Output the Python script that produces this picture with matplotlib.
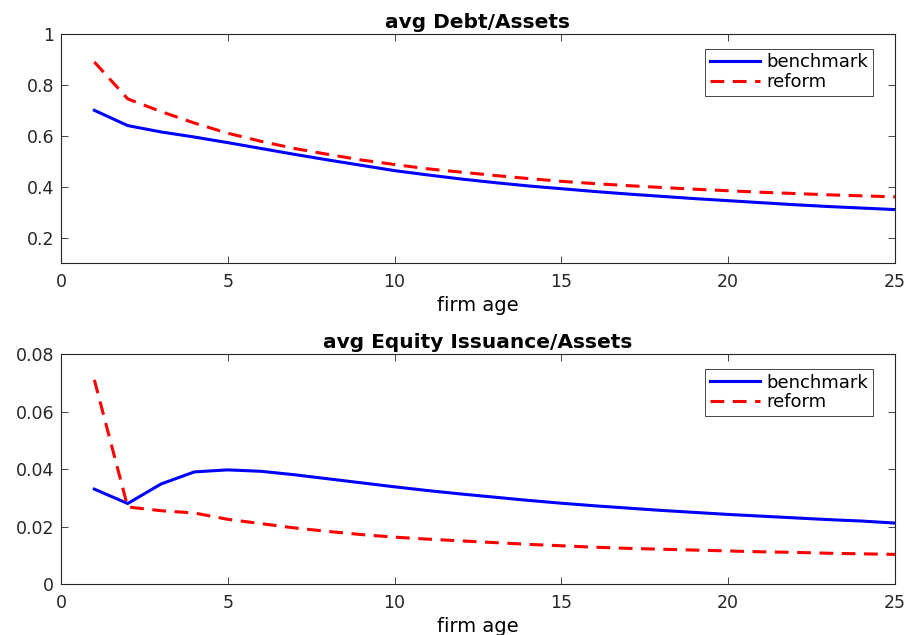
import numpy as np
import matplotlib
matplotlib.use("Agg")
import matplotlib.pyplot as plt

matplotlib.rcParams.update({
    'font.family': ['DejaVu Sans'],
    'font.size': 13,
})

age = np.arange(1, 26)

debt_benchmark = [0.700, 0.640, 0.615, 0.595, 0.573, 0.550, 0.527, 0.505, 0.484, 0.463,
                  0.446, 0.430, 0.416, 0.403, 0.392, 0.381, 0.371, 0.362, 0.353, 0.345,
                  0.337, 0.329, 0.322, 0.316, 0.310]
debt_reform = [0.890, 0.745, 0.695, 0.650, 0.610, 0.578, 0.550, 0.527, 0.505, 0.487,
               0.470, 0.457, 0.444, 0.432, 0.421, 0.412, 0.404, 0.397, 0.390, 0.384,
               0.378, 0.373, 0.368, 0.364, 0.360]

eq_benchmark = [0.0330, 0.0280, 0.0348, 0.0390, 0.0397, 0.0392, 0.0380, 0.0366, 0.0352, 0.0338,
                0.0325, 0.0313, 0.0302, 0.0291, 0.0281, 0.0272, 0.0264, 0.0256, 0.0249, 0.0242,
                0.0236, 0.0230, 0.0224, 0.0219, 0.0212]
eq_reform = [0.0710, 0.0268, 0.0255, 0.0247, 0.0225, 0.0210, 0.0195, 0.0183, 0.0172, 0.0163,
             0.0156, 0.0150, 0.0144, 0.0138, 0.0133, 0.0128, 0.0124, 0.0121, 0.0118, 0.0115,
             0.0112, 0.0110, 0.0107, 0.0105, 0.0103]

fig = plt.figure(figsize=(9.09, 6.35), dpi=100)
ax1 = fig.add_axes([0.0671, 0.5858, 0.9175, 0.3607])
ax2 = fig.add_axes([0.0671, 0.0803, 0.9175, 0.3622])

panels = [
    (ax1, debt_benchmark, debt_reform, 'avg Debt/Assets', (0.1, 1), [0.2, 0.4, 0.6, 0.8, 1]),
    (ax2, eq_benchmark, eq_reform, 'avg Equity Issuance/Assets', (0, 0.08), [0, 0.02, 0.04, 0.06, 0.08]),
]

for ax, bench, ref, title, ylim, yticks in panels:
    ax.plot(age, bench, color='#0000ff', lw=2.2, label='benchmark')
    ax.plot(age, ref, color='#ff0000', lw=2.2, dashes=(4.5, 2.8), label='reform')
    ax.set_xlim(0, 25)
    ax.set_ylim(*ylim)
    ax.set_xticks([0, 5, 10, 15, 20, 25])
    ax.set_yticks(yticks)
    ax.set_yticklabels([('%g' % v) for v in yticks])
    ax.set_title(title, fontweight='bold', fontsize=14.5, pad=4)
    ax.set_xlabel('firm age', fontsize=14, labelpad=4)
    ax.tick_params(direction='in', top=True, right=True, length=5, width=0.6,
                   colors='#262626', labelcolor='#262626', labelsize=12.5)
    ax.tick_params(axis='x', pad=7)
    ax.tick_params(axis='y', pad=5)
    for s in ax.spines.values():
        s.set_linewidth(0.8)
        s.set_color('#262626')
    leg = ax.legend(loc='upper right', bbox_to_anchor=(0.9736, 0.9345), fancybox=False,
                    framealpha=1, edgecolor='#262626', fontsize=13, handlelength=2.8,
                    handletextpad=0.35, borderpad=0.25, labelspacing=0.1, borderaxespad=0)
    leg.get_frame().set_linewidth(0.6)

plt.savefig('out.png', dpi=100)
